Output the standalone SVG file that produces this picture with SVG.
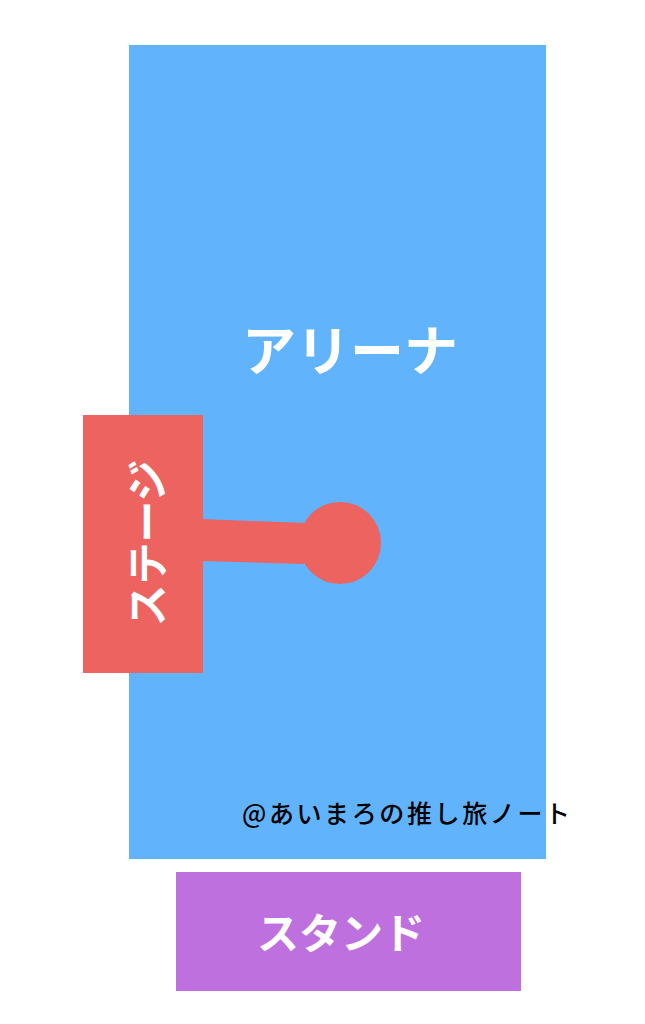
<svg xmlns="http://www.w3.org/2000/svg" width="645" height="1024" viewBox="0 0 645 1024">
<style>
.lbl{font-family:"Noto Sans CJK JP","Noto Sans",sans-serif;font-weight:bold;fill:#ffffff}
.wm{font-family:"Noto Sans CJK JP","Noto Sans",sans-serif;font-weight:500;fill:#000000}
</style>
<rect width="645" height="1024" fill="#ffffff"/>
<g id="arena">
<rect x="129" y="45" width="417" height="814" fill="#61B4FB"/>
<text class="lbl" x="350" y="371" font-size="54" text-anchor="middle">アリーナ</text>
</g>
<g id="connectors">
<polygon points="200,519 304,523 304,564 200,561" fill="#EC635F"/>
</g>
<g id="stage">
<rect x="83" y="415" width="120" height="258" fill="#EC635F"/>
<text class="lbl" x="0" y="0" font-size="42" text-anchor="middle" dominant-baseline="central" transform="translate(144,543) rotate(-90)">ステージ</text>
</g>
<g id="center-stage">
<circle cx="340" cy="543" r="41" fill="#EC635F"/>
</g>
<g id="stand">
<rect x="176" y="872" width="345" height="119" fill="#BE70DF"/>
<text class="lbl" x="341" y="949" font-size="42" text-anchor="middle">スタンド</text>
</g>
<g id="watermark">
<text class="wm" x="242" y="823" font-size="25" textLength="328" lengthAdjust="spacing">@あいまろの推し旅ノート</text>
</g>
</svg>
